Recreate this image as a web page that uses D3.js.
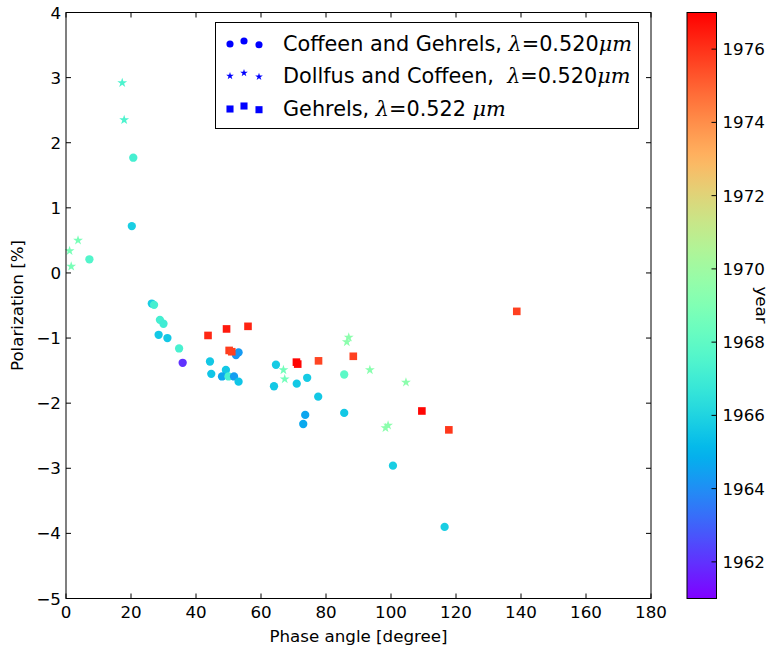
<!DOCTYPE html>
<html><head><meta charset="utf-8">
<script src="https://cdn.jsdelivr.net/npm/d3@7"></script>
<style>
body{margin:0;background:#fff;}
text{font-family:"DejaVu Sans",sans-serif;}
</style></head>
<body><svg id="c" width="773" height="653"></svg>
<script>
// ---- data ----
const xTicks=[0,20,40,60,80,100,120,140,160,180];
const yTicks=[-5,-4,-3,-2,-1,0,1,2,3,4];
const cbTicks=[1962,1964,1966,1968,1970,1972,1974,1976];
// Coffeen and Gehrels (circles): phase, polarization, year
const cgPhase=[20.7,20.25,7.2,26.4,27.1,28.9,30.0,28.5,31.2,34.8,35.9,44.3,44.7,49.2,48.0,50.0,51.7,53.1,53.1,52.3,64.6,64.0,71.0,74.2,77.6,73.6,73.0,85.6,85.6,100.6,116.5];
const cgPol  =[1.77,0.72,0.21,-0.47,-0.49,-0.72,-0.78,-0.95,-1.00,-1.16,-1.38,-1.36,-1.55,-1.49,-1.59,-1.59,-1.59,-1.67,-1.22,-1.26,-1.41,-1.74,-1.70,-1.61,-1.90,-2.18,-2.32,-1.56,-2.15,-2.96,-3.90];
const cgYear =[1967.2,1965.8,1967.6,1965.8,1967.2,1967.2,1967.0,1965.6,1965.6,1967.3,1962.0,1965.6,1965.5,1965.6,1964.6,1967.3,1964.4,1965.5,1964.3,1964.2,1965.7,1965.6,1965.6,1965.7,1965.6,1964.6,1964.7,1967.9,1965.6,1965.8,1965.8];
// Dollfus and Coffeen (stars)
const dcPhase=[17.3,17.9,3.7,1.1,1.6,66.9,67.3,87.0,86.4,93.5,104.6,98.3,99.1];
const dcPol  =[2.92,2.35,0.50,0.34,0.10,-1.49,-1.63,-0.99,-1.06,-1.49,-1.68,-2.38,-2.34];
const dcYear =[1967.4,1967.4,1968.8,1968.8,1968.8,1968.6,1968.6,1969.4,1969.4,1969.3,1969.4,1969.4,1969.4];
// Gehrels (squares)
const gPhase=[43.7,49.4,56.0,50.2,51.0,70.9,71.3,77.7,88.4,109.5,117.8,138.7];
const gPol  =[-0.96,-0.86,-0.82,-1.19,-1.21,-1.37,-1.40,-1.35,-1.28,-2.12,-2.41,-0.59];
const gYear =[1976.2,1976.5,1976.3,1975.8,1975.7,1976.9,1976.9,1975.6,1975.7,1976.9,1975.9,1975.7];
const legendLabels=[
  [["Coffeen and Gehrels, ",0],["λ",1],["=0.520",0],["μm",1]],
  [["Dollfus and Coffeen,  ",0],["λ",1],["=0.520",0],["μm",1]],
  [["Gehrels, ",0],["λ",1],["=0.522 ",0],["μm",1]]
];
const yearMin=1961, yearMax=1977;

// ---- layout ----
const L=66,R=651,T=12.5,B=598.5;
const svg=d3.select("#c");
const x=d3.scaleLinear().domain([0,180]).range([L,R]);
const y=d3.scaleLinear().domain([-5,4]).range([B,T]);
function rainbow(t){
  t=Math.max(0,Math.min(1,t));
  const r=Math.min(1,Math.abs(2*t-0.5)), g=Math.sin(Math.PI*t), b=Math.cos(Math.PI*t/2);
  return d3.rgb(r*255,Math.max(0,g)*255,Math.max(0,b)*255).toString();
}
const cScale=d3.scaleLinear().domain([yearMin,yearMax]).range([0,1]);
const col=yr=>rainbow(cScale(yr));
const FS=16.7;

// points
const g=svg.append("g");
const circ=d3.symbol().type(d3.symbolCircle).size(54);
const star=d3.symbol().type(d3.symbolStar).size(30);
const sq=d3.symbol().type(d3.symbolSquare).size(58);
function series(px,py,yr,sym){
  g.selectAll(null).data(px.map((d,i)=>({x:d,y:py[i],c:yr[i]}))).enter().append("path")
   .attr("d",sym).attr("transform",d=>`translate(${x(d.x)},${y(d.y)})`).attr("fill",d=>col(d.c));
}
series(cgPhase,cgPol,cgYear,circ);
series(dcPhase,dcPol,dcYear,star);
series(gPhase,gPol,gYear,sq);

// frame
svg.append("rect").attr("x",L).attr("y",T).attr("width",R-L).attr("height",B-T).attr("fill","none").attr("stroke","#000").attr("stroke-width",1);
const TL=5;
xTicks.forEach(v=>{
  svg.append("line").attr("x1",x(v)).attr("x2",x(v)).attr("y1",B).attr("y2",B-TL).attr("stroke","#000");
  svg.append("line").attr("x1",x(v)).attr("x2",x(v)).attr("y1",T).attr("y2",T+TL).attr("stroke","#000");
  svg.append("text").attr("x",x(v)).attr("y",B+19).attr("text-anchor","middle").attr("font-size",FS).text(v);
});
yTicks.forEach(v=>{
  svg.append("line").attr("x1",L).attr("x2",L+TL).attr("y1",y(v)).attr("y2",y(v)).attr("stroke","#000");
  svg.append("line").attr("x1",R).attr("x2",R-TL).attr("y1",y(v)).attr("y2",y(v)).attr("stroke","#000");
  svg.append("text").attr("x",L-5).attr("y",y(v)+6).attr("text-anchor","end").attr("font-size",FS).text(v<0?"\u2212"+(-v):v);
});
svg.append("text").attr("x",(L+R)/2).attr("y",642).attr("text-anchor","middle").attr("font-size",FS).text("Phase angle [degree]");
svg.append("text").attr("transform",`translate(23,${(T+B)/2}) rotate(-90)`).attr("text-anchor","middle").attr("font-size",FS).text("Polarization [%]");

// legend
svg.append("rect").attr("x",215.5).attr("y",22.5).attr("width",423).attr("height",106).attr("fill","#fff").attr("stroke","#000").attr("stroke-width",1);
const legSyms=[d3.symbol().type(d3.symbolCircle).size(40),d3.symbol().type(d3.symbolStar).size(18),d3.symbol().type(d3.symbolSquare).size(50)];
const rowY=[44,76,109], mx=[230,244,259], my=[0,-3,0.7];
legendLabels.forEach((parts,i)=>{
  mx.forEach((xx,j)=>svg.append("path").attr("d",legSyms[i]).attr("transform",`translate(${xx},${rowY[i]+my[j]})`).attr("fill","#0000ff"));
  const t=svg.append("text").attr("x",283).attr("y",rowY[i]+7).attr("font-size",20.8).style("white-space","pre");
  parts.forEach(p=>{
    const s=t.append("tspan").text(p[0]);
    if(p[1]) s.attr("font-family","DejaVu Serif").attr("font-style","italic");
  });
});

// colorbar
const cbL=687,cbR=716.5;
const cy=d3.scaleLinear().domain([yearMin,yearMax]).range([B,T]);
const grad=svg.append("defs").append("linearGradient").attr("id","rb").attr("x1",0).attr("x2",0).attr("y1",1).attr("y2",0);
d3.range(0,1.0001,0.02).forEach(t=>grad.append("stop").attr("offset",t).attr("stop-color",rainbow(t)));
svg.append("rect").attr("x",cbL).attr("y",T).attr("width",cbR-cbL).attr("height",B-T).attr("fill","url(#rb)").attr("stroke","#000").attr("stroke-width",1);
cbTicks.forEach(v=>{
  svg.append("line").attr("x1",cbR).attr("x2",cbR-TL).attr("y1",cy(v)).attr("y2",cy(v)).attr("stroke","#000");
  svg.append("text").attr("x",cbR+6).attr("y",cy(v)+6).attr("font-size",FS).text(v);
});
svg.append("text").attr("transform",`translate(756,305) rotate(90)`).attr("text-anchor","middle").attr("font-size",FS).text("year");
</script></body></html>
